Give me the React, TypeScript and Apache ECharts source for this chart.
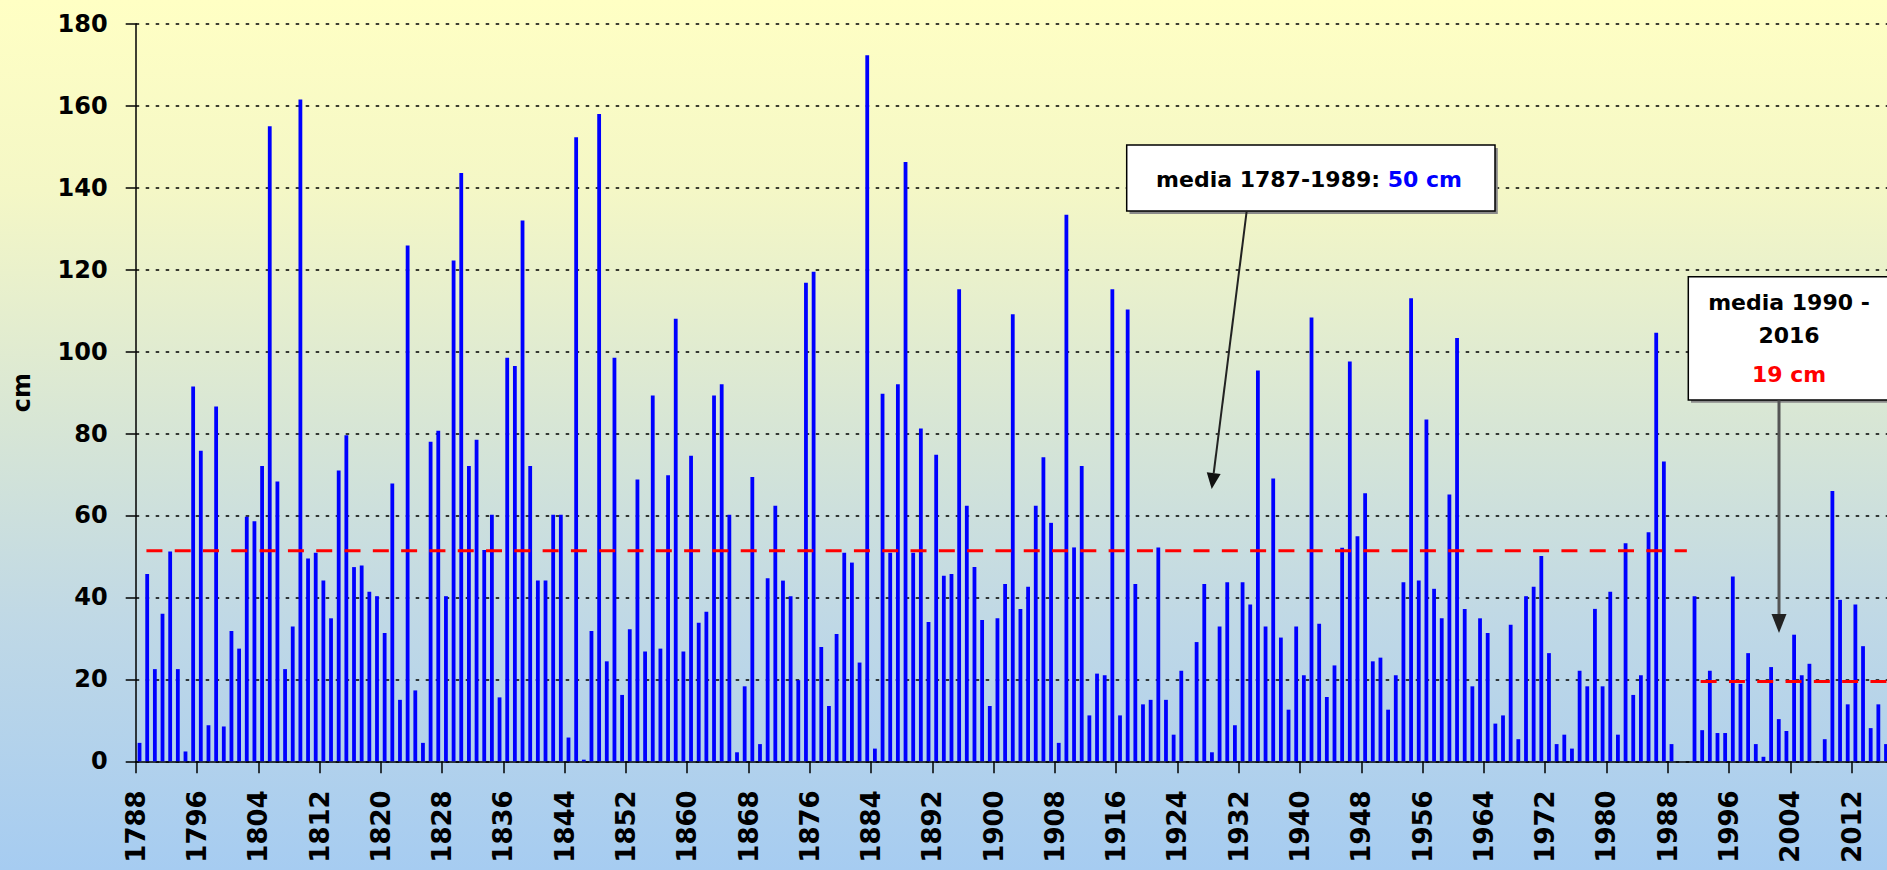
import React, { useEffect, useRef } from "react";
import * as echarts from "echarts";

// Winter snowfall (cm), one value per season, starting with the season labelled 1788
const FIRST_YEAR = 1788;
const snow1788to1827 = [
  4.5, 45.7, 22.5, 36, 51.2, 22.5, 2.4, 91.5, 75.8, 8.8,
  86.6, 8.5, 31.8, 27.5, 59.7, 58.6, 72.1, 155, 68.3, 22.5,
  32.9, 161.5, 49.5, 50.9, 44.1, 34.9, 71, 79.6, 47.4, 47.8,
  41.4, 40.3, 31.3, 67.8, 15, 125.9, 17.3, 4.5, 78, 80.7,
];
const snow1828to1867 = [
  40.3, 122.2, 143.6, 72.1, 78.5, 51.6, 60.2, 15.6, 98.5, 96.5,
  132, 72.1, 44.1, 44.1, 60.2, 60.2, 5.8, 152.3, 0.4, 31.8,
  158, 24.4, 98.5, 16.2, 32.2, 68.8, 26.8, 89.3, 27.5, 69.8,
  108, 26.8, 74.6, 33.8, 36.5, 89.3, 92, 60.2, 2.2, 18.3,
];
const snow1868to1907 = [
  69.4, 4.2, 44.7, 62.4, 44.1, 40.3, 19.8, 116.8, 119.5, 27.9,
  13.5, 31.1, 50.9, 48.5, 24.1, 172.3, 3.1, 89.7, 50.9, 92,
  146.3, 50.9, 81.2, 34, 74.8, 45.3, 45.7, 115.2, 62.4, 47.4,
  34.5, 13.5, 34.9, 43.3, 109.1, 37.2, 42.6, 62.4, 74.2, 58.2,
];
const snow1908to1947 = [
  4.5, 133.4, 52.2, 72.1, 11.2, 21.4, 21, 115.2, 11.2, 110.3,
  43.3, 13.9, 15, 52.2, 15, 6.5, 22.1, 0, 29.1, 43.3,
  2.2, 32.9, 43.7, 8.8, 43.7, 38.3, 95.4, 32.9, 69, 30.2,
  12.6, 32.9, 21, 108.3, 33.6, 15.7, 23.4, 52.1, 97.6, 54.9,
];
const snow1948to1987 = [
  65.4, 24.4, 25.3, 12.6, 21, 43.7, 113, 44.1, 83.4, 42.1,
  34.9, 65.1, 103.3, 37.2, 18.3, 34.9, 31.3, 9.2, 11.2, 33.3,
  5.4, 40.3, 42.6, 50.1, 26.4, 4.2, 6.5, 3.1, 22.1, 18.3,
  37.2, 18.3, 41.4, 6.5, 53.2, 16.2, 21, 55.9, 104.6, 73.2,
];
const snow1988to2016 = [
  4.2, 0, 0, 40.3, 7.6, 22.1, 6.9, 6.9, 45.1, 18.9,
  26.4, 4.2, 1.1, 23, 10.3, 7.4, 30.9, 21, 23.8, 0,
  5.4, 66, 39.4, 13.9, 38.3, 28.1, 8.1, 13.9, 4.2,
];

// Mean lines as drawn: [value, fromYear, toYear]
const meanOld = [51.4, 1789.4, 1990.5];
const meanNew = [19.5, 1992.3, 2019];

const yMin = 0;
const yMax = 180;
const yStep = 20;
const xStepYears = 8;
const xSpanYears = 231;

const FONT = '"DejaVu Sans", Verdana, sans-serif';

export default function App() {
  const ref = useRef<HTMLDivElement>(null);

  useEffect(() => {
    if (!ref.current) return;
    const chart = echarts.init(ref.current, undefined, { renderer: "svg" });

    const values = [
      ...snow1788to1827,
      ...snow1828to1867,
      ...snow1868to1907,
      ...snow1908to1947,
      ...snow1948to1987,
      ...snow1988to2016,
    ];
    const barData = values.map((v, k) => [k + 0.5, v]);

    const gridLeft = 135.7;
    const gridTop = 23.8;
    const gridHeight = 737.5;
    const unitX = 7.66;

    // arrow 1 geometry
    const a1s = [1246.7, 211];
    const a1t = [1211.7, 489];
    const dx = a1t[0] - a1s[0];
    const dy = a1t[1] - a1s[1];
    const len = Math.sqrt(dx * dx + dy * dy);
    const ux = dx / len;
    const uy = dy / len;
    const hl = 16;
    const hw = 7;
    const bx = a1t[0] - ux * hl;
    const by = a1t[1] - uy * hl;
    const px = -uy;
    const py = ux;

    const bold = { fontFamily: FONT, fontWeight: "bold", fontSize: 22 };

    chart.setOption({
      animation: false,
      backgroundColor: "transparent",
      grid: {
        left: gridLeft,
        top: gridTop,
        height: gridHeight,
        width: xSpanYears * unitX,
        containLabel: false,
        outerBoundsMode: "none",
      },
      xAxis: {
        type: "value",
        min: 0,
        max: xSpanYears,
        interval: xStepYears,
        axisLine: { show: true, lineStyle: { color: "#000", width: 1.5 } },
        axisTick: { show: true, length: 12, lineStyle: { color: "#000", width: 1.5 } },
        splitLine: { show: false },
        axisLabel: {
          rotate: 90,
          margin: 29,
          showMaxLabel: false,
          color: "#000",
          fontFamily: FONT,
          fontWeight: "bold",
          fontSize: 26,
          formatter: (v: number) => (v % xStepYears === 0 ? String(FIRST_YEAR + v) : ""),
        },
      },
      yAxis: {
        type: "value",
        min: yMin,
        max: yMax,
        interval: yStep,
        name: "cm",
        nameLocation: "middle",
        nameRotate: 90,
        nameGap: 102,
        nameTextStyle: { color: "#000", fontFamily: FONT, fontWeight: "bold", fontSize: 24 },
        axisLine: { show: true, lineStyle: { color: "#000", width: 1.5 } },
        axisTick: { show: true, length: 10, lineStyle: { color: "#000", width: 1.5 } },
        axisLabel: {
          margin: 28,
          color: "#000",
          fontFamily: FONT,
          fontWeight: "bold",
          fontSize: 24,
        },
        splitLine: {
          show: true,
          lineStyle: { color: "#000", width: 1.7, type: [3.5, 6.5] },
        },
      },
      series: [
        {
          type: "bar",
          data: barData,
          barWidth: 3.8,
          itemStyle: { color: "#0000FF" },
          z: 2,
        },
        {
          type: "line",
          data: [
            [meanOld[1] - FIRST_YEAR, meanOld[0]],
            [meanOld[2] - FIRST_YEAR, meanOld[0]],
          ],
          showSymbol: false,
          symbol: "none",
          lineStyle: { color: "#FF0000", width: 3, type: [16, 12.3] },
          z: 3,
        },
        {
          type: "line",
          data: [
            [meanNew[1] - FIRST_YEAR, meanNew[0]],
            [meanNew[2] - FIRST_YEAR, meanNew[0]],
          ],
          showSymbol: false,
          symbol: "none",
          lineStyle: { color: "#FF0000", width: 3, type: [16, 12.3] },
          z: 3,
        },
      ],
      graphic: [
        // box 1
        {
          type: "rect",
          z: 100,
          shape: { x: 1129.5, y: 148, width: 368.3, height: 66 },
          style: { fill: "#8a8a8a" },
        },
        {
          type: "rect",
          z: 101,
          shape: { x: 1126.7, y: 145, width: 368.3, height: 66 },
          style: { fill: "#ffffff", stroke: "#000", lineWidth: 1.5 },
        },
        {
          type: "text",
          z: 102,
          x: 1309,
          y: 179,
          style: {
            text: "{k|media 1787-1989: }{b|50 cm}",
            align: "center",
            verticalAlign: "middle",
            textAlign: "center",
            textVerticalAlign: "middle",
            rich: {
              k: { ...bold, fill: "#000", color: "#000" },
              b: { ...bold, fill: "#0000FF", color: "#0000FF" },
            },
          },
        },
        // arrow 1
        {
          type: "line",
          z: 102,
          shape: { x1: a1s[0], y1: a1s[1], x2: bx, y2: by },
          style: { stroke: "#222", lineWidth: 2 },
        },
        {
          type: "polygon",
          z: 102,
          shape: {
            points: [
              [a1t[0], a1t[1]],
              [bx + px * hw, by + py * hw],
              [bx - px * hw, by - py * hw],
            ],
          },
          style: { fill: "#111" },
        },
        // box 2
        {
          type: "rect",
          z: 100,
          shape: { x: 1691, y: 279.5, width: 230, height: 123.3 },
          style: { fill: "#8a8a8a" },
        },
        {
          type: "rect",
          z: 101,
          shape: { x: 1688.3, y: 276.7, width: 230, height: 123.3 },
          style: { fill: "#ffffff", stroke: "#000", lineWidth: 1.5 },
        },
        {
          type: "text",
          z: 102,
          x: 1789,
          y: 302.5,
          style: {
            text: "media 1990 -",
            ...bold,
            fill: "#000",
            align: "center",
            verticalAlign: "middle",
            textAlign: "center",
            textVerticalAlign: "middle",
          },
        },
        {
          type: "text",
          z: 102,
          x: 1789,
          y: 335.5,
          style: {
            text: "2016",
            ...bold,
            fill: "#000",
            align: "center",
            verticalAlign: "middle",
            textAlign: "center",
            textVerticalAlign: "middle",
          },
        },
        {
          type: "text",
          z: 102,
          x: 1789,
          y: 374.5,
          style: {
            text: "19 cm",
            ...bold,
            fill: "#FF0000",
            align: "center",
            verticalAlign: "middle",
            textAlign: "center",
            textVerticalAlign: "middle",
          },
        },
        // arrow 2
        {
          type: "line",
          z: 102,
          shape: { x1: 1779, y1: 400.5, x2: 1779, y2: 616 },
          style: { stroke: "#555", lineWidth: 3 },
        },
        {
          type: "polygon",
          z: 102,
          shape: {
            points: [
              [1779, 633],
              [1771.5, 614],
              [1786.5, 614],
            ],
          },
          style: { fill: "#222" },
        },
      ],
    });

    return () => chart.dispose();
  }, []);

  return (
    <div
      ref={ref}
      style={{
        position: "absolute",
        left: 0,
        top: 0,
        width: 1887,
        height: 870,
        background:
          "linear-gradient(to bottom, #FFFFC4 0%, #F4F7C6 22%, #D6E5D6 50%, #BFD8E6 72%, #A6CCF1 100%)",
      }}
    />
  );
}
